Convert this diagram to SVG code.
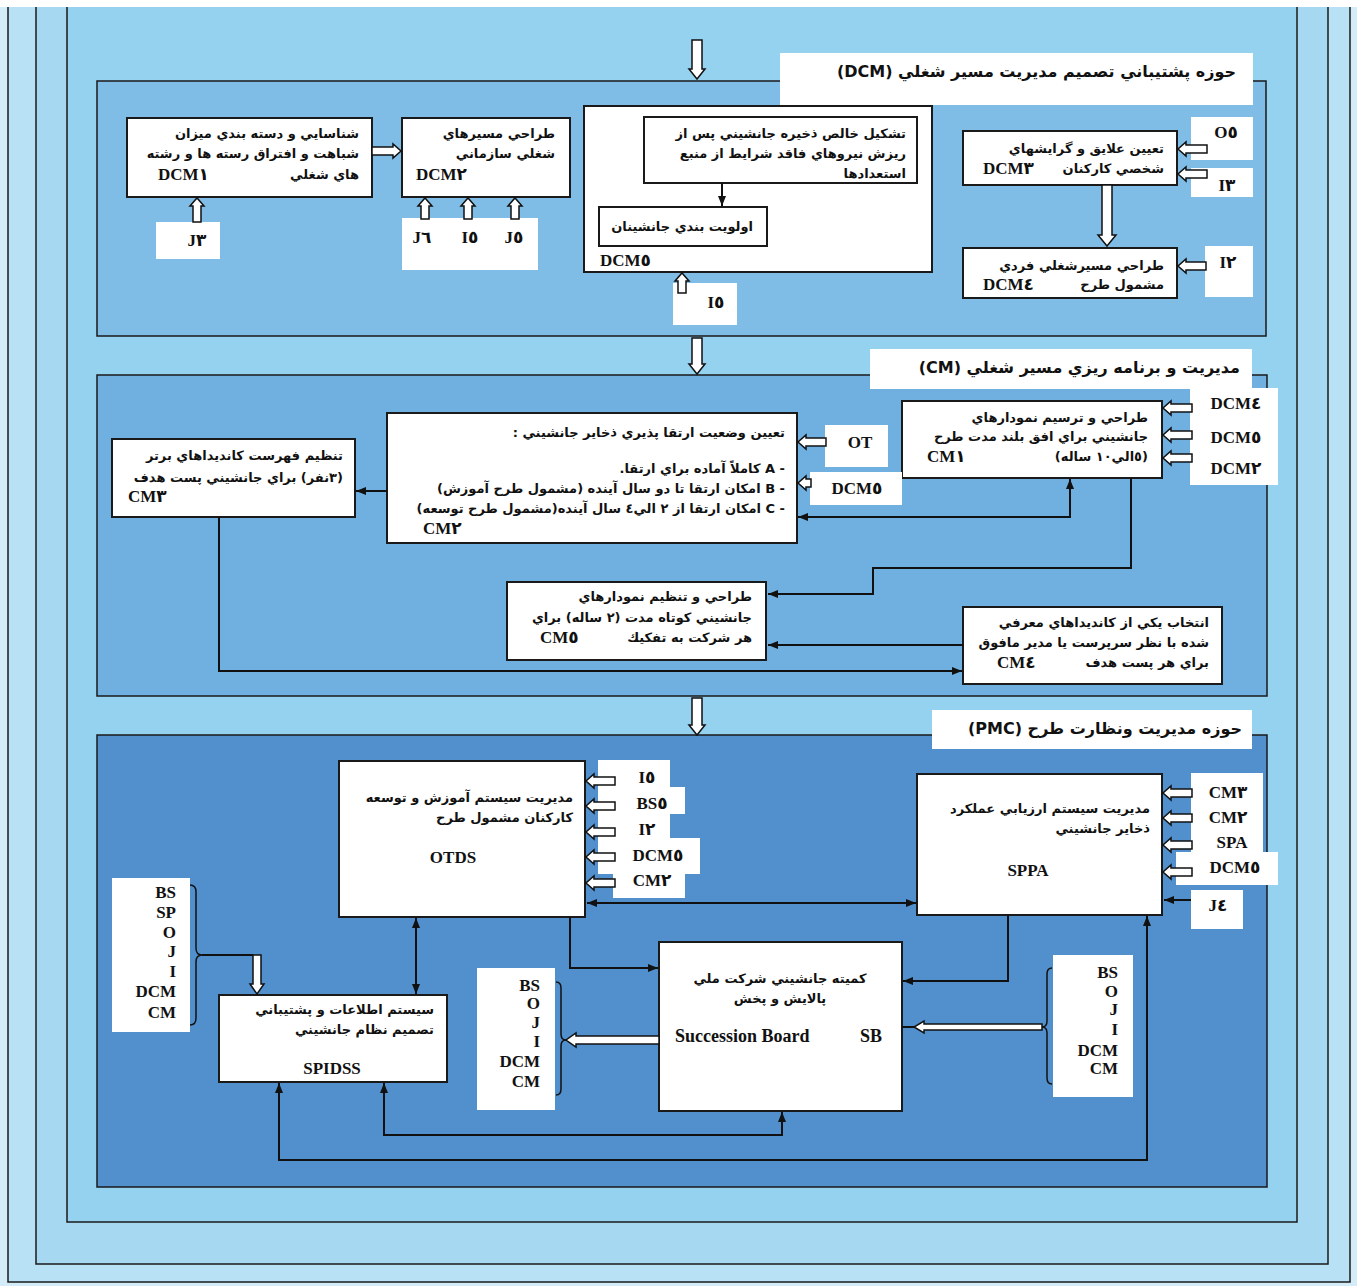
<svg xmlns="http://www.w3.org/2000/svg" width="1357" height="1286" viewBox="0 0 1357 1286">
<style>
.sec{stroke:#1a1a1a;stroke-width:1.5}
.box{fill:#fff;stroke:#1a1a1a;stroke-width:2}
.wb{fill:#fff}
.ha{fill:#fff;stroke:#111;stroke-width:1.5}
.ln{fill:none;stroke:#111;stroke-width:2}
.br{fill:none;stroke:#111;stroke-width:1.5}
.fa{font-family:"DejaVu Sans","Noto Sans",sans-serif;font-weight:bold;font-size:13px;direction:rtl;unicode-bidi:embed;fill:#111}
.hd{font-size:16px}
.lt{font-family:"Liberation Serif","DejaVu Sans",serif;font-weight:bold;font-size:17px;fill:#111}
.mid{text-anchor:middle}
.end{text-anchor:end}
</style>
<defs>
<marker id="ah" viewBox="0 0 10 8" refX="10" refY="4" markerWidth="10" markerHeight="8" markerUnits="userSpaceOnUse" orient="auto-start-reverse"><path d="M0,0 L10,4 L0,8 z" fill="#111"/></marker>
</defs>
<g id="background">
<rect x="0" y="0" width="1357" height="1286" fill="#d4ecf8"/>
<rect x="8" y="-2" width="1342" height="1284" fill="#b9e1f6" class="sec"/>
<rect x="36" y="-2" width="1292" height="1266" fill="#a7d8f2" class="sec"/>
<rect x="67" y="-2" width="1230" height="1224" fill="#94d2f0" class="sec"/>
<rect x="0" y="0" width="1357" height="7" fill="#ffffff"/>
</g>
<g id="sec-dcm">
<rect x="97" y="81" width="1169" height="255" fill="#80bde6" class="sec"/>
<rect x="780" y="53" width="473" height="52" class="wb"/>
<text x="1236" y="77" class="fa hd">حوزه پشتيباني تصميم مديريت مسير شغلي  (DCM)</text>
</g>
<g id="sec-cm">
<rect x="97" y="375" width="1170" height="321" fill="#70b0e0" class="sec"/>
<rect x="870" y="349" width="382" height="40" class="wb"/>
<text x="1240" y="373" class="fa hd">مديريت و برنامه ريزي مسير شغلي   (CM)</text>
</g>
<g id="sec-pmc">
<rect x="97" y="735" width="1170" height="452" fill="#5190cd" class="sec"/>
<rect x="932" y="710" width="320" height="39" class="wb"/>
<text x="1242" y="734" class="fa hd">حوزه مديريت ونظارت طرح  (PMC)</text>
</g>

<g id="dcm1">
<rect x="127" y="118" width="245" height="79" class="box"/>
<text x="359" y="138" class="fa">شناسايي و دسته بندي ميزان</text>
<text x="359" y="158" class="fa">شباهت و افتراق رسته ها و رشته</text>
<text x="359" y="179" class="fa">هاي شغلي</text>
<text x="158" y="180" class="lt">DCM١</text>
</g>
<g id="dcm2">
<rect x="402" y="118" width="168" height="79" class="box"/>
<text x="555" y="138" class="fa">طراحي مسيرهاي</text>
<text x="555" y="158" class="fa">شغلي سازماني</text>
<text x="416" y="180" class="lt">DCM٢</text>
</g>
<g id="in-j3">
<rect x="156" y="222" width="64" height="37" class="wb"/>
<text x="197" y="246" class="lt mid">J٣</text>
</g>
<g id="in-dcm2">
<rect x="402" y="218" width="136" height="52" class="wb"/>
<text x="422" y="243" class="lt mid">J٦</text>
<text x="470" y="243" class="lt mid">I٥</text>
<text x="514" y="243" class="lt mid">J٥</text>
</g>
<g id="dcm5">
<rect x="584" y="106" width="348" height="166" class="box"/>
<rect x="644" y="117" width="273" height="66" class="box"/>
<text x="906" y="138" class="fa">تشكيل خالص ذخيره جانشيني پس از</text>
<text x="906" y="158" class="fa">ريزش نيروهاي فاقد شرايط از منبع</text>
<text x="906" y="178" class="fa">استعدادها</text>
<rect x="599" y="207" width="168" height="39" class="box"/>
<text x="753" y="231" class="fa">اولويت بندي جانشينان</text>
<text x="600" y="266" class="lt">DCM٥</text>
</g>
<g id="in-i5">
<rect x="673" y="283" width="64" height="42" class="wb"/>
<text x="716" y="308" class="lt mid">I٥</text>
</g>
<g id="dcm3">
<rect x="963" y="131" width="214" height="54" class="box"/>
<text x="1164" y="153" class="fa">تعيين علايق و گرايشهاي</text>
<text x="1164" y="173" class="fa">شخصي كاركنان</text>
<text x="983" y="174" class="lt">DCM٣</text>
</g>
<g id="in-o5">
<rect x="1191" y="117" width="62" height="43" class="wb"/>
<text x="1226" y="138" class="lt mid">O٥</text>
</g>
<g id="in-i3">
<rect x="1191" y="168" width="62" height="29" class="wb"/>
<text x="1227" y="191" class="lt mid">I٣</text>
</g>
<g id="dcm4">
<rect x="963" y="248" width="214" height="50" class="box"/>
<text x="1164" y="270" class="fa">طراحي مسيرشغلي فردي</text>
<text x="1164" y="289" class="fa">مشمول طرح</text>
<text x="983" y="290" class="lt">DCM٤</text>
</g>
<g id="in-i2">
<rect x="1205" y="246" width="48" height="51" class="wb"/>
<text x="1228" y="268" class="lt mid">I٢</text>
</g>

<g id="cm1">
<rect x="902" y="401" width="260" height="77" class="box"/>
<text x="1148" y="422" class="fa">طراحي و ترسيم نمودارهاي</text>
<text x="1148" y="441" class="fa">جانشيني براي افق بلند مدت طرح</text>
<text x="1148" y="461" class="fa">(٥الي١٠ ساله)</text>
<text x="927" y="462" class="lt">CM١</text>
</g>
<g id="in-cm1">
<rect x="1190" y="388" width="88" height="97" class="wb"/>
<text x="1236" y="409" class="lt mid">DCM٤</text>
<text x="1236" y="443" class="lt mid">DCM٥</text>
<text x="1236" y="474" class="lt mid">DCM٢</text>
</g>
<g id="cm2">
<rect x="387" y="413" width="410" height="130" class="box"/>
<text x="785" y="437" class="fa">تعيين وضعيت ارتقا پذيري ذخاير جانشيني :</text>
<text x="785" y="473" class="fa">- A كاملاً آماده براي ارتقا.</text>
<text x="785" y="493" class="fa">- B امكان ارتقا تا دو سال آينده (مشمول طرح آموزش)</text>
<text x="785" y="513" class="fa">- C امكان ارتقا از ٢ الي٤ سال آينده(مشمول طرح توسعه)</text>
<text x="423" y="534" class="lt">CM٢</text>
</g>
<g id="in-ot">
<rect x="825" y="425" width="63" height="42" class="wb"/>
<text x="860" y="448" class="lt mid">OT</text>
</g>
<g id="in-dcm5-cm2">
<rect x="810" y="472" width="92" height="33" class="wb"/>
<text x="857" y="494" class="lt mid">DCM٥</text>
</g>
<g id="cm3">
<rect x="112" y="439" width="243" height="78" class="box"/>
<text x="343" y="460" class="fa">تنظيم فهرست كانديداهاي برتر</text>
<text x="343" y="482" class="fa">(٣نفر) براي جانشيني پست هدف</text>
<text x="128" y="502" class="lt">CM٣</text>
</g>
<g id="cm5">
<rect x="507" y="582" width="259" height="78" class="box"/>
<text x="752" y="601" class="fa">طراحي و تنظيم نمودارهاي</text>
<text x="752" y="622" class="fa">جانشيني كوتاه مدت (٢ ساله) براي</text>
<text x="752" y="642" class="fa">هر شركت به تفكيك</text>
<text x="540" y="643" class="lt">CM٥</text>
</g>
<g id="cm4">
<rect x="963" y="607" width="259" height="77" class="box"/>
<text x="1209" y="627" class="fa">انتخاب يكي از كانديداهاي معرفي</text>
<text x="1209" y="647" class="fa">شده با نظر سرپرست يا مدير مافوق</text>
<text x="1209" y="667" class="fa">براي هر پست هدف</text>
<text x="997" y="668" class="lt">CM٤</text>
</g>

<g id="otds">
<rect x="339" y="761" width="246" height="156" class="box"/>
<text x="573" y="802" class="fa">مديريت  سيستم آموزش و توسعه</text>
<text x="573" y="822" class="fa">كاركنان مشمول طرح</text>
<text x="453" y="863" class="lt mid">OTDS</text>
</g>
<g id="in-otds">
<rect x="598" y="760" width="72" height="28" class="wb"/>
<rect x="598" y="787" width="87" height="27" class="wb"/>
<rect x="598" y="813" width="72" height="26" class="wb"/>
<rect x="598" y="838" width="102" height="36" class="wb"/>
<rect x="613" y="873" width="72" height="25" class="wb"/>
<text x="647" y="783" class="lt mid">I٥</text>
<text x="652" y="809" class="lt mid">BS٥</text>
<text x="647" y="835" class="lt mid">I٢</text>
<text x="658" y="861" class="lt mid">DCM٥</text>
<text x="652" y="886" class="lt mid">CM٢</text>
</g>
<g id="sppa">
<rect x="917" y="774" width="245" height="141" class="box"/>
<text x="1150" y="813" class="fa">مديريت سيستم ارزيابي عملكرد</text>
<text x="1150" y="833" class="fa">ذخاير جانشيني</text>
<text x="1028" y="876" class="lt mid">SPPA</text>
</g>
<g id="in-sppa">
<rect x="1191" y="773" width="72" height="80" class="wb"/>
<rect x="1176" y="852" width="102" height="33" class="wb"/>
<rect x="1191" y="890" width="52" height="39" class="wb"/>
<text x="1228" y="798" class="lt mid">CM٣</text>
<text x="1228" y="823" class="lt mid">CM٢</text>
<text x="1232" y="848" class="lt mid">SPA</text>
<text x="1235" y="873" class="lt mid">DCM٥</text>
<text x="1218" y="911" class="lt mid">J٤</text>
</g>
<g id="sb">
<rect x="659" y="942" width="243" height="169" class="box"/>
<text x="780" y="983" class="fa mid">كميته جانشيني شركت ملي</text>
<text x="780" y="1003" class="fa mid">پالايش و پخش</text>
<text x="675" y="1042" class="lt" style="font-size:18px">Succession Board</text>
<text x="860" y="1042" class="lt" style="font-size:18px">SB</text>
</g>
<g id="spidss">
<rect x="219" y="995" width="228" height="87" class="box"/>
<text x="434" y="1014" class="fa">سيستم اطلاعات و پشتيباني</text>
<text x="434" y="1034" class="fa">تصميم نظام جانشيني</text>
<text x="332" y="1074" class="lt mid">SPIDSS</text>
</g>
<g id="list-left">
<rect x="112" y="878" width="78" height="154" class="wb"/>
<text x="176" y="898" class="lt end">BS</text>
<text x="176" y="918" class="lt end">SP</text>
<text x="176" y="938" class="lt end">O</text>
<text x="176" y="957" class="lt end">J</text>
<text x="176" y="977" class="lt end">I</text>
<text x="176" y="997" class="lt end">DCM</text>
<text x="176" y="1018" class="lt end">CM</text>
</g>
<g id="list-mid">
<rect x="477" y="968" width="78" height="142" class="wb"/>
<text x="540" y="991" class="lt end">BS</text>
<text x="540" y="1009" class="lt end">O</text>
<text x="540" y="1028" class="lt end">J</text>
<text x="540" y="1047" class="lt end">I</text>
<text x="540" y="1067" class="lt end">DCM</text>
<text x="540" y="1087" class="lt end">CM</text>
</g>
<g id="list-right">
<rect x="1053" y="955" width="80" height="142" class="wb"/>
<text x="1118" y="978" class="lt end">BS</text>
<text x="1118" y="997" class="lt end">O</text>
<text x="1118" y="1015" class="lt end">J</text>
<text x="1118" y="1035" class="lt end">I</text>
<text x="1118" y="1056" class="lt end">DCM</text>
<text x="1118" y="1074" class="lt end">CM</text>
</g>

<g id="connectors">
<polygon class="ha" points="692,40 692,69 689,69 697,79 705,69 702,69 702,40"/>
<polygon class="ha" points="692,338 692,364 689,364 697,374 705,364 702,364 702,338"/>
<polygon class="ha" points="692,698 692,725 689,725 697,735 705,725 702,725 702,698"/>
<polygon class="ha" points="372,147 393,147 393,144 401,151 393,158 393,155 372,155"/>
<polygon class="ha" points="193,222 193,206 190,206 197,198 204,206 201,206 201,222"/>
<polygon class="ha" points="421,219 421,206 418,206 425,198 432,206 429,206 429,219"/>
<polygon class="ha" points="464,219 464,206 461,206 468,198 475,206 472,206 472,219"/>
<polygon class="ha" points="511,219 511,206 508,206 515,198 522,206 519,206 519,219"/>
<polygon class="ha" points="678,293 678,281 675,281 682,273 689,281 686,281 686,293"/>
<polygon class="ha" points="1207,145 1186,145 1186,142 1178,149 1186,156 1186,153 1207,153"/>
<polygon class="ha" points="1207,170 1186,170 1186,167 1178,174 1186,181 1186,178 1207,178"/>
<polygon class="ha" points="1102,185 1102,235 1098,235 1107,246 1116,235 1112,235 1112,185"/>
<polygon class="ha" points="1206,262 1186,262 1186,259 1178,266 1186,273 1186,270 1206,270"/>
<path class="ln" d="M722,183 V206" marker-end="url(#ah)"/>

<polygon class="ha" points="1192,404 1171,404 1171,401 1163,408 1171,415 1171,412 1192,412"/>
<polygon class="ha" points="1192,431 1171,431 1171,428 1163,435 1171,442 1171,439 1192,439"/>
<polygon class="ha" points="1192,454 1171,454 1171,451 1163,458 1171,465 1171,462 1192,462"/>
<polygon class="ha" points="826,438 806,438 806,435 798,442 806,449 806,446 826,446"/>
<polygon class="ha" points="811,479 806,479 806,476 798,483 806,490 806,487 811,487"/>
<path class="ln" d="M387,491 H356" marker-end="url(#ah)"/>
<path class="ln" d="M219,517 V671 H962" marker-end="url(#ah)"/>
<path class="ln" d="M963,645 H768" marker-end="url(#ah)"/>
<path class="ln" d="M798,517 H1070 V479" marker-start="url(#ah)" marker-end="url(#ah)"/>
<path class="ln" d="M1131,478 V568 H873 V594 H768" marker-end="url(#ah)"/>

<polygon class="ha" points="615,777 594,777 594,774 586,781 594,788 594,785 615,785"/>
<polygon class="ha" points="615,802 594,802 594,799 586,806 594,813 594,810 615,810"/>
<polygon class="ha" points="615,828 594,828 594,825 586,832 594,839 594,836 615,836"/>
<polygon class="ha" points="615,853 594,853 594,850 586,857 594,864 594,861 615,861"/>
<polygon class="ha" points="615,879 594,879 594,876 586,883 594,890 594,887 615,887"/>
<polygon class="ha" points="1192,789 1171,789 1171,786 1163,793 1171,800 1171,797 1192,797"/>
<polygon class="ha" points="1192,814 1171,814 1171,811 1163,818 1171,825 1171,822 1192,822"/>
<polygon class="ha" points="1192,841 1171,841 1171,838 1163,845 1171,852 1171,849 1192,849"/>
<polygon class="ha" points="1192,868 1171,868 1171,865 1163,872 1171,879 1171,876 1192,876"/>
<path class="ln" d="M1191,900 H1164" marker-end="url(#ah)"/>
<path class="ln" d="M587,903 H916" marker-start="url(#ah)" marker-end="url(#ah)"/>
<path class="ln" d="M416,918 V994" marker-start="url(#ah)" marker-end="url(#ah)"/>
<path class="ln" d="M570,917 V968 H658" marker-end="url(#ah)"/>
<path class="ln" d="M1008,915 V981 H903" marker-end="url(#ah)"/>
<path class="ln" d="M384,1083 V1135 H782 V1112" marker-start="url(#ah)" marker-end="url(#ah)"/>
<path class="ln" d="M279,1083 V1160 H1147 V916" marker-start="url(#ah)" marker-end="url(#ah)"/>
<path class="ln" d="M902,1027 H914"/>
<polygon class="ha" points="1042,1024 924,1024 924,1021 914,1027 924,1033 924,1030 1042,1030"/>
<polygon class="ha" points="659,1036 576,1036 576,1033 566,1040 576,1047 576,1044 659,1044"/>
<path class="ln" d="M202,955 H253"/>
<polygon class="ha" points="253,955 253,984 250,984 257,994 264,984 261,984 261,955"/>
<path class="br" d="M190,885 Q196,885 196,892 V948 Q196,955 202,955 Q196,955 196,962 V1018 Q196,1025 190,1025"/>
<path class="br" d="M556,982 Q561,982 561,988 V1034 Q561,1040 566,1040 Q561,1040 561,1046 V1089 Q561,1095 556,1095"/>
<path class="br" d="M1052,968 Q1047,968 1047,974 V1021 Q1047,1027 1042,1027 Q1047,1027 1047,1033 V1078 Q1047,1084 1052,1084"/>
</g>
</svg>
